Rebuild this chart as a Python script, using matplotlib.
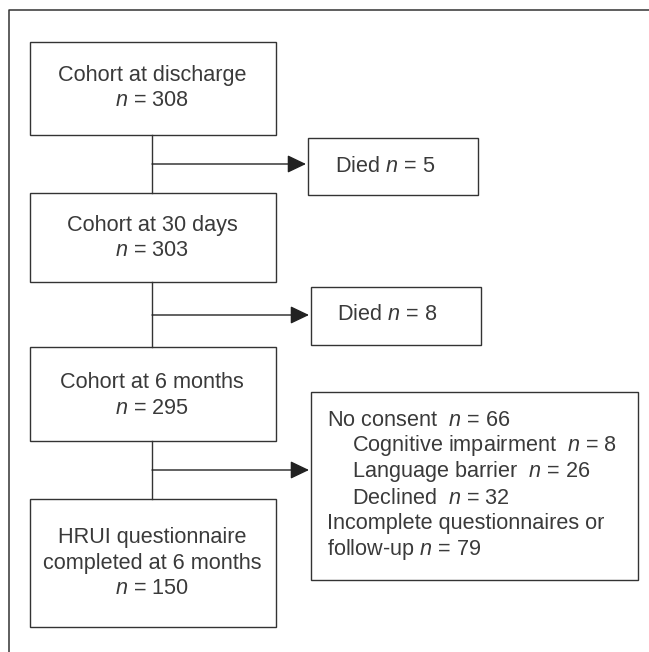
import matplotlib
matplotlib.use("Agg")
import matplotlib.pyplot as plt
from matplotlib.patches import Rectangle

plt.rcParams['font.family'] = ['Liberation Sans', 'DejaVu Sans']
plt.rcParams['mathtext.fontset'] = 'custom'
plt.rcParams['mathtext.it'] = 'Liberation Sans:italic'
plt.rcParams['mathtext.rm'] = 'Liberation Sans'

# ---- data ----
main_labels = ["Cohort at discharge", "Cohort at 30 days", "Cohort at 6 months",
               "HRUI questionnaire\ncompleted at 6 months"]
main_n = [308, 303, 295, 150]
died_n = [5, 8]
no_consent_n = 66
no_consent_reasons = ["Cognitive impairment", "Language barrier", "Declined"]
no_consent_reason_n = [8, 26, 32]
incomplete_n = 79

# ---- layout (pixels) ----
W, H = 649, 652
ink = '#333333'
txt = '#3a3a3a'
fs = 15.6
lw = 1.0

fig = plt.figure(figsize=(W / 100, H / 100), dpi=100)
ax = fig.add_axes([0, 0, 1, 1])
ax.set_xlim(0, W)
ax.set_ylim(H, 0)
ax.axis('off')

# outer frame (extends past right / bottom)
ax.plot([8.5, 8.5, W + 5], [H + 5, 10, 10], color=ink, lw=1.1, solid_capstyle='butt')

def box(x0, y0, x1, y1):
    ax.add_patch(Rectangle((x0, y0), x1 - x0, y1 - y0, fill=False,
                           edgecolor=ink, lw=lw))

main_boxes = [(30, 42, 276, 135), (30, 193, 276, 282), (30, 347, 276, 441), (30, 499, 276, 627)]
main_text_y = [[75, 100], [225, 250], [382, 408], [538, 563, 588]]

for (x0, y0, x1, y1), lab, n, ys in zip(main_boxes, main_labels, main_n, main_text_y):
    box(x0, y0, x1, y1)
    lines = lab.split("\n") + [r"$n$ = %d" % n]
    for t, yy in zip(lines, ys):
        ax.text(152, yy, t, ha='center', va='center', fontsize=fs, color=txt)

# connectors and arrows
conn_x = 152
arrow_y = [164, 315, 470]
arrow_tip = [306, 309, 309]
for i in range(3):
    ax.plot([conn_x, conn_x], [main_boxes[i][3], main_boxes[i + 1][1]], color=ink, lw=lw)
    ax.annotate('', xy=(arrow_tip[i], arrow_y[i]), xytext=(conn_x, arrow_y[i]),
                arrowprops=dict(arrowstyle='-|>,head_length=1.15,head_width=0.55',
                                mutation_scale=10, color='#222222', lw=lw,
                                shrinkA=0, shrinkB=0))

# died boxes
died_boxes = [(308, 138, 478, 195), (311, 287, 481, 345)]
died_text = [(335, 166), (337, 315)]
for (x0, y0, x1, y1), n, (tx, ty) in zip(died_boxes, died_n, died_text):
    box(x0, y0, x1, y1)
    ax.text(tx, ty, r"Died $n$ = %d" % n, ha='left', va='center', fontsize=fs, color=txt)

# exclusions box
box(311, 392, 638, 580)
ex_lines = [(327, r"No consent  $n$ = %d" % no_consent_n)]
for r, n in zip(no_consent_reasons, no_consent_reason_n):
    ex_lines.append((352, r"%s  $n$ = %d" % (r, n)))
ex_lines.append((327, "Incomplete questionnaires or"))
ex_lines.append((327, r"follow-up $n$ = %d" % incomplete_n))
ex_y = [420, 446, 472, 498, 524, 550]
for (tx, t), yy in zip(ex_lines, ex_y):
    ax.text(tx, yy, t, ha='left', va='center', fontsize=fs, color=txt)

fig.savefig("out.png", dpi=100, facecolor='white')
